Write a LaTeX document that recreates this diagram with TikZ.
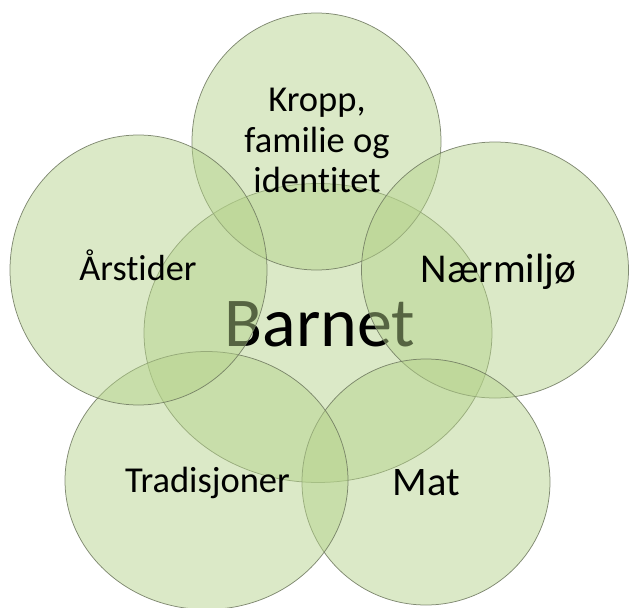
\documentclass[tikz,border=0pt]{standalone}
\usepackage{fontspec}
\setmainfont{Carlito}[Ligatures={NoCommon}]
\usetikzlibrary{shapes.geometric}
\definecolor{circfill}{RGB}{180,210,138}
\definecolor{circline}{RGB}{110,120,95}
\begin{document}
\begin{tikzpicture}[x=1pt,y=-1pt]
\tikzset{
  bubble/.style={ellipse, draw=circline, line width=0.75pt, draw opacity=0.85,
                 fill=circfill, fill opacity=0.48, inner sep=0pt},
  lbl/.style={anchor=base, inner sep=0pt, text=black, align=center},
}
\useasboundingbox (0,0) rectangle (630,608);
% central circle and its text
\node[bubble, minimum width=348pt, minimum height=299pt] (cc) at (318,333) {};
\node[lbl, font=\fontsize{70}{72}\selectfont] (barnet) at (320,346.5) {Barnet};
% outer circles
\node[bubble, minimum width=249pt, minimum height=257pt] (ct) at (316.5,141.5) {};
\node[bubble, minimum width=267pt, minimum height=256pt] (cr) at (495,270) {};
\node[bubble, minimum width=248pt, minimum height=246pt] (cbr) at (426,482) {};
\node[bubble, minimum width=283pt, minimum height=258pt] (cbl) at (206.5,480.5) {};
\node[bubble, minimum width=257pt, minimum height=270pt] (cl) at (138.5,270) {};
% labels
\node[lbl, font=\fontsize{36.5}{40.5}\selectfont] (kropp) at (317,192.5) {Kropp,\\familie og\\identitet};
\node[lbl, font=\fontsize{36.3}{40}\selectfont] (arstider) at (138,280.5) {Årstider};
\node[lbl, font=\fontsize{41}{44}\selectfont] (naer) at (498.5,282.5) {Nærmiljø};
\node[lbl, font=\fontsize{36.5}{40}\selectfont] (trad) at (207.5,492.5) {Tradisjoner};
\node[lbl, font=\fontsize{40.5}{44}\selectfont] (mat) at (426,495) {Mat};
\end{tikzpicture}
\end{document}
